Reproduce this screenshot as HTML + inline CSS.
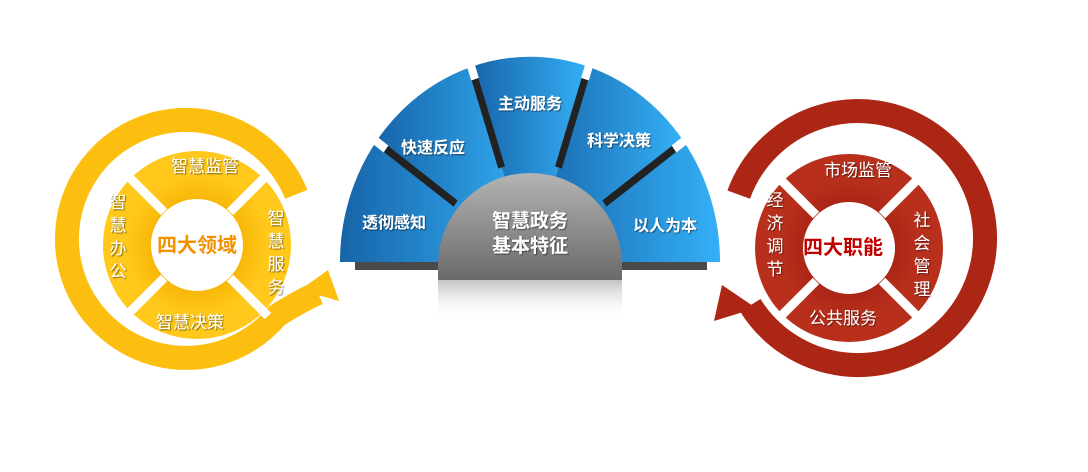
<!DOCTYPE html>
<html><head><meta charset="utf-8"><style>
html,body{margin:0;padding:0;background:#fff;}
svg{display:block;}
text{font-family:"Liberation Sans","Noto Sans CJK SC",sans-serif;}
</style></head><body>
<svg width="1088" height="472" viewBox="0 0 1088 472" xmlns="http://www.w3.org/2000/svg">
<defs>
<linearGradient id="bl" x1="0" y1="0" x2="1" y2="0"><stop offset="0" stop-color="#1764a8"/><stop offset="1" stop-color="#34b0f7"/></linearGradient>
<linearGradient id="gr" x1="0" y1="0" x2="0" y2="1"><stop offset="0" stop-color="#b4b4b4"/><stop offset="1" stop-color="#6a6a6a"/></linearGradient>
<linearGradient id="rf" x1="0" y1="0" x2="0" y2="1"><stop offset="0" stop-color="#9a9a9a" stop-opacity="0.6"/><stop offset="1" stop-color="#fff" stop-opacity="0"/></linearGradient>
<radialGradient id="yl" cx="0.5" cy="0.5" r="0.5"><stop offset="0.5" stop-color="#f5b000"/><stop offset="1" stop-color="#ffc81a"/></radialGradient>
<radialGradient id="rd" cx="0.5" cy="0.5" r="0.5"><stop offset="0.5" stop-color="#a42112"/><stop offset="1" stop-color="#b8301c"/></radialGradient>
<filter id="sh"><feDropShadow dx="1" dy="1" stdDeviation="0.6" flood-color="#000" flood-opacity="0.5"/></filter>
</defs>

<!-- LEFT -->
<path d="M296.3,194.4 A119,119 0 1 0 277,315.5 Q302,300 318,293" fill="none" stroke="#fdbf0f" stroke-width="24"/>
<polygon points="300,290 339,301 328,270" fill="#fdbf0f"/>
<circle cx="197" cy="245" r="70" fill="none" stroke="url(#yl)" stroke-width="48"/>
<g stroke="#fff" stroke-width="9">
<line x1="164" y1="212" x2="126" y2="174"/>
<line x1="230" y1="212" x2="268" y2="174"/>
<line x1="230" y1="278" x2="268" y2="316"/>
<line x1="164" y1="278" x2="126" y2="316"/>
</g>
<g fill="#fff" font-size="17" text-anchor="middle" filter="url(#sh)">
<text x="205" y="172">智慧监管</text>
<text x="190" y="328">智慧决策</text>
<text x="276" y="224">智</text><text x="276" y="247">慧</text><text x="276" y="270">服</text><text x="276" y="293">务</text>
<text x="118" y="208">智</text><text x="118" y="231">慧</text><text x="118" y="254">办</text><text x="118" y="277">公</text>
</g>
<text x="197" y="252" font-size="20" font-weight="bold" fill="#f39200" text-anchor="middle">四大领域</text>

<!-- RIGHT -->
<path d="M738.7,194.6 A127,127 0 1 1 750.3,305.3" fill="none" stroke="#ab2614" stroke-width="24"/>
<polygon points="714,321 756,308 722,285" fill="#ab2614"/>
<circle cx="849" cy="248" r="70" fill="none" stroke="url(#rd)" stroke-width="48"/>
<g stroke="#fff" stroke-width="9">
<line x1="816" y1="215" x2="778" y2="177"/>
<line x1="882" y1="215" x2="920" y2="177"/>
<line x1="882" y1="281" x2="920" y2="319"/>
<line x1="816" y1="281" x2="778" y2="319"/>
</g>
<g fill="#fff" font-size="17" text-anchor="middle" filter="url(#sh)">
<text x="858" y="176">市场监管</text>
<text x="843" y="324">公共服务</text>
<text x="922" y="226">社</text><text x="922" y="249">会</text><text x="922" y="272">管</text><text x="922" y="295">理</text>
<text x="775" y="206">经</text><text x="775" y="229">济</text><text x="775" y="252">调</text><text x="775" y="275">节</text>
</g>
<text x="843" y="254" font-size="20" font-weight="bold" fill="#c00000" text-anchor="middle">四大职能</text>

<!-- CENTER FAN -->
<rect x="355" y="260" width="352" height="10" fill="#4a4a4a"/>
<g transform="translate(0,262) scale(1,1.08) translate(0,-262)">
<path d="M530,262 L340,262 A190,190 0 0 1 376.3,150.3 Z" fill="url(#bl)"/>
<path d="M530,262 L376.3,150.3 A190,190 0 0 1 471.3,81.3 Z" fill="url(#bl)"/>
<path d="M530,262 L471.3,81.3 A190,190 0 0 1 588.7,81.3 Z" fill="url(#bl)"/>
<path d="M530,262 L588.7,81.3 A190,190 0 0 1 683.7,150.3 Z" fill="url(#bl)"/>
<path d="M530,262 L683.7,150.3 A190,190 0 0 1 720,262 Z" fill="url(#bl)"/>
<g stroke="#222" stroke-width="7">
<line x1="455.6" y1="207.9" x2="376.3" y2="150.3"/>
<line x1="501.6" y1="174.5" x2="471.3" y2="81.3"/>
<line x1="558.4" y1="174.5" x2="588.7" y2="81.3"/>
<line x1="604.4" y1="207.9" x2="683.7" y2="150.3"/>
</g>
<g stroke="#fff" stroke-width="8">
<line x1="386" y1="157.4" x2="374" y2="148.6"/>
<line x1="475" y1="92.7" x2="470.4" y2="78.5"/>
<line x1="585" y1="92.7" x2="589.6" y2="78.5"/>
<line x1="674" y1="157.4" x2="686" y2="148.6"/>
</g>
</g>
<path d="M438,265 A92,92 0 0 1 622,265 L622,280 L438,280 Z" fill="url(#gr)"/>
<rect x="438" y="280" width="184" height="40" fill="url(#rf)"/>
<g fill="#fff" font-size="16" font-weight="bold" text-anchor="middle" filter="url(#sh)">
<text x="394" y="228">透彻感知</text>
<text x="433" y="153">快速反应</text>
<text x="530" y="109">主动服务</text>
<text x="619" y="146">科学决策</text>
<text x="665" y="231">以人为本</text>
</g>
<g fill="#fff" font-size="19" font-weight="bold" text-anchor="middle" filter="url(#sh)">
<text x="530" y="227">智慧政务</text>
<text x="530" y="252">基本特征</text>
</g>
</svg>
</body></html>
